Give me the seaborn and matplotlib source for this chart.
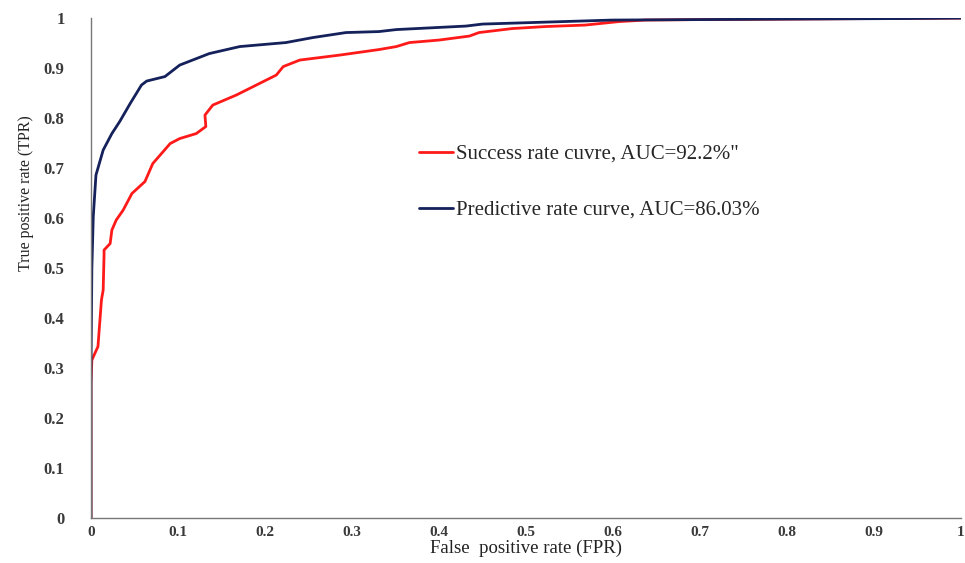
import pandas as pd
import numpy as np
import matplotlib.pyplot as plt
import seaborn as sns

# ROC curves - success rate vs predictive rate

success_fpr = [0.0, 0.0, 0.001, 0.008, 0.012, 0.014, 0.015, 0.015, 0.022, 0.024,
               0.029, 0.037, 0.047, 0.062, 0.071, 0.091, 0.102, 0.121, 0.132,
               0.131, 0.140, 0.167, 0.190, 0.213, 0.221, 0.240, 0.286, 0.331,
               0.351, 0.366, 0.400, 0.435, 0.446, 0.484, 0.522, 0.568, 0.607,
               0.637, 0.700, 0.800, 0.900, 1.0]
success_tpr = [0.0, 0.27, 0.316, 0.343, 0.436, 0.456, 0.526, 0.536, 0.549, 0.576,
               0.596, 0.616, 0.649, 0.673, 0.709, 0.749, 0.759, 0.769, 0.783,
               0.806, 0.826, 0.846, 0.866, 0.886, 0.903, 0.916, 0.926, 0.937,
               0.943, 0.951, 0.956, 0.964, 0.971, 0.979, 0.983, 0.986, 0.993,
               0.996, 0.997, 0.998, 0.999, 1.0]

predict_fpr = [0.0, 0.0, 0.001, 0.0026, 0.0057, 0.014, 0.024, 0.033, 0.045, 0.058,
               0.064, 0.085, 0.102, 0.136, 0.171, 0.224, 0.255, 0.293, 0.331,
               0.351, 0.431, 0.450, 0.599, 0.700, 0.800, 0.928, 1.0]
predict_tpr = [0.0, 0.30, 0.50, 0.603, 0.686, 0.736, 0.769, 0.793, 0.829, 0.866,
               0.874, 0.883, 0.906, 0.929, 0.943, 0.951, 0.961, 0.971, 0.973,
               0.977, 0.984, 0.988, 0.996, 0.997, 0.998, 0.999, 1.0]

labels = ["Success rate cuvre, AUC=92.2%\"", "Predictive rate curve, AUC=86.03%"]
colors = ["#ff1a1a", "#14215a"]
tick_labels = ["0", "0.1", "0.2", "0.3", "0.4", "0.5", "0.6", "0.7", "0.8", "0.9", "1"]

df = pd.concat([
    pd.DataFrame({"FPR": success_fpr, "TPR": success_tpr, "curve": labels[0]}),
    pd.DataFrame({"FPR": predict_fpr, "TPR": predict_tpr, "curve": labels[1]}),
], ignore_index=True)

sns.set_style("white")
plt.rcParams["font.family"] = ["Liberation Serif", "DejaVu Serif"]

fig = plt.figure(figsize=(9.65, 5.63), dpi=100)
ax = fig.add_axes([0.0943, 0.0799, 0.9015, 0.888])

sns.lineplot(data=df, x="FPR", y="TPR", hue="curve", palette=colors,
             sort=False, estimator=None, linewidth=2.0, ax=ax)

ax.set_xlim(0, 1)
ax.set_ylim(0, 1)
ax.set_xticks(np.linspace(0, 1, 11))
ax.set_yticks(np.linspace(0, 1, 11))
ax.set_xticklabels(tick_labels)
ax.set_yticklabels(tick_labels)

for side in ["top", "right"]:
    ax.spines[side].set_visible(False)
for side in ["left", "bottom"]:
    ax.spines[side].set_color("#777777")
    ax.spines[side].set_linewidth(1.0)

ax.tick_params(axis="both", which="major", direction="out", width=1,
               color="#777777", labelsize=12, labelcolor="#3a3a3a")
ax.tick_params(axis="x", length=3, pad=3, labelsize=11)
ax.tick_params(axis="y", length=5, pad=14)
for lab in ax.get_xticklabels() + ax.get_yticklabels():
    lab.set_fontweight("bold")

ax.set_xlabel("False  positive rate (FPR)", fontsize=13.5, color="#222222", labelpad=0)
ax.set_ylabel("True positive rate (TPR)", fontsize=11.5, color="#222222")
ax.yaxis.set_label_coords(-0.066, 0.65)

leg = ax.legend(loc="upper left", bbox_to_anchor=(0.356, 0.785), frameon=False,
                fontsize=15, handlelength=1.6, handletextpad=0.15,
                labelspacing=1.75)
for line in leg.get_lines():
    line.set_linewidth(2.0)

fig.savefig("out.png", dpi=100)
